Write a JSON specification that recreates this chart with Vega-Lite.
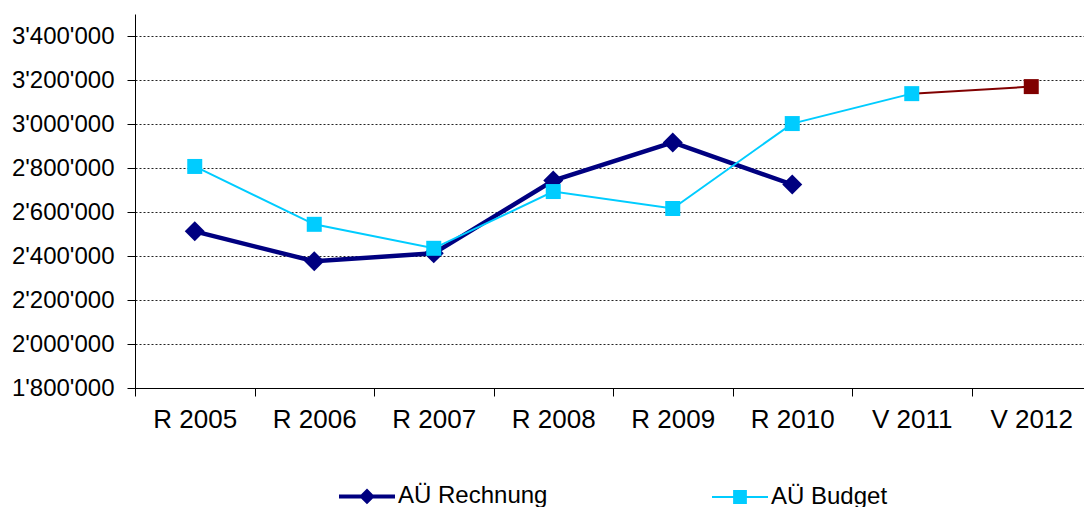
{
  "$schema": "https://vega.github.io/schema/vega-lite/v6.json",
  "width": 956,
  "height": 374,
  "autosize": {"type": "none"},
  "padding": {"left": 135, "top": 14, "right": 0, "bottom": 119},
  "background": "white",
  "config": {
    "view": {"stroke": null},
    "font": "Liberation Sans"
  },
  "data": {
    "values": [
      {"cat": "R 2005", "series": "AÜ Rechnung", "value": 2512000},
      {"cat": "R 2006", "series": "AÜ Rechnung", "value": 2376000},
      {"cat": "R 2007", "series": "AÜ Rechnung", "value": 2412000},
      {"cat": "R 2008", "series": "AÜ Rechnung", "value": 2743000},
      {"cat": "R 2009", "series": "AÜ Rechnung", "value": 2916000},
      {"cat": "R 2010", "series": "AÜ Rechnung", "value": 2725000},
      {"cat": "R 2005", "series": "AÜ Budget", "value": 2807000},
      {"cat": "R 2006", "series": "AÜ Budget", "value": 2544000},
      {"cat": "R 2007", "series": "AÜ Budget", "value": 2435000},
      {"cat": "R 2008", "series": "AÜ Budget", "value": 2693000},
      {"cat": "R 2009", "series": "AÜ Budget", "value": 2616000},
      {"cat": "R 2010", "series": "AÜ Budget", "value": 3002000},
      {"cat": "V 2011", "series": "AÜ Budget", "value": 3138000},
      {"cat": "V 2011", "series": "AÜ Budget V", "value": 3138000},
      {"cat": "V 2012", "series": "AÜ Budget V", "value": 3170000}
    ]
  },
  "encoding": {
    "x": {
      "field": "cat",
      "type": "ordinal",
      "sort": null,
      "scale": {"type": "band", "paddingInner": 0, "paddingOuter": 0},
      "axis": {
        "title": null,
        "labelAngle": 0,
        "labelFontSize": 26,
        "labelColor": "#000",
        "labelPadding": 10,
        "tickBand": "extent",
        "tickSize": 8,
        "tickColor": "#000",
        "domainColor": "#000",
        "grid": false
      }
    },
    "y": {
      "field": "value",
      "type": "quantitative",
      "scale": {"domain": [1800000, 3500000], "nice": false, "zero": false},
      "axis": {
        "title": null,
        "values": [1800000, 2000000, 2200000, 2400000, 2600000, 2800000, 3000000, 3200000, 3400000],
        "labelExpr": "replace(replace(format(datum.value, ','), ',', \"'\"), ',', \"'\")",
        "labelFontSize": 24,
        "labelColor": "#000",
        "labelPadding": 13,
        "tickSize": 8,
        "tickColor": "#000",
        "domainColor": "#000",
        "grid": true,
        "gridColor": "#222",
        "gridDash": [2, 2],
        "gridWidth": 1
      }
    },
    "color": {
      "field": "series",
      "type": "nominal",
      "scale": {
        "domain": ["AÜ Rechnung", "AÜ Budget", "AÜ Budget V"],
        "range": ["#000080", "#00CCFF", "#800000"]
      },
      "legend": {
        "title": null,
        "values": ["AÜ Rechnung", "AÜ Budget"],
        "orient": "none",
        "direction": "horizontal",
        "legendX": 220,
        "legendY": 470,
        "symbolSize": 3136,
        "labelFontSize": 24,
        "labelColor": "#000",
        "labelOffset": 19,
        "columnPadding": 160,
        "encode": {
          "symbols": {
            "update": {
              "shape": {"signal": "datum.value === 'AÜ Rechnung' ? 'M-1,0L1,0M-0.18,0L0,-0.18L0.18,0L0,0.18Z' : 'M-1,0L1,0M-0.21,-0.21L0.21,-0.21L0.21,0.21L-0.21,0.21Z'"},
              "strokeWidth": {"signal": "datum.value === 'AÜ Rechnung' ? 4 : 2"},
              "stroke": {"signal": "datum.value === 'AÜ Rechnung' ? '#000080' : '#00CCFF'"},
              "fill": {"signal": "datum.value === 'AÜ Rechnung' ? '#000080' : '#00CCFF'"},
              "opacity": {"value": 1},
              "fillOpacity": {"value": 1},
              "strokeOpacity": {"value": 1}
            }
          }
        }
      }
    }
  },
  "layer": [
    {
      "transform": [{"filter": "datum.series === 'AÜ Rechnung'"}],
      "mark": {"type": "line", "strokeWidth": 4.5, "strokeJoin": "miter"}
    },
    {
      "transform": [{"filter": "datum.series === 'AÜ Rechnung'"}],
      "mark": {"type": "point", "shape": "diamond", "filled": true, "size": 400, "opacity": 1}
    },
    {
      "transform": [{"filter": "datum.series !== 'AÜ Rechnung'"}],
      "mark": {"type": "line", "strokeWidth": 2}
    },
    {
      "transform": [{"filter": "datum.series === 'AÜ Budget' || datum.cat === 'V 2012'"}],
      "mark": {"type": "point", "shape": "square", "filled": true, "size": 225, "opacity": 1}
    }
  ]
}
